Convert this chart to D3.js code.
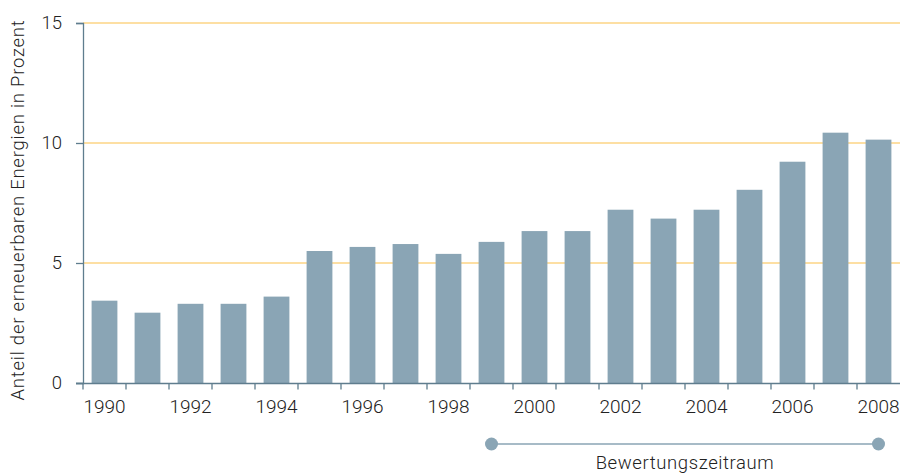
<!DOCTYPE html>
<html><head><meta charset="utf-8">
<script src="https://cdn.jsdelivr.net/npm/d3@7"></script>
<style>
body{margin:0;background:#fff;}
svg{display:block;font-family:Roboto,"Liberation Sans",Arial,sans-serif;font-weight:300;}
</style></head>
<body><svg id="c" width="900" height="473"></svg>
<script>
const years = [1990,1991,1992,1993,1994,1995,1996,1997,1998,1999,2000,2001,2002,2003,2004,2005,2006,2007,2008];
const shares = [3.43,2.93,3.3,3.3,3.6,5.5,5.67,5.79,5.38,5.88,6.33,6.33,7.22,6.85,7.22,8.05,9.22,10.43,10.14];
const yTicks = [0,5,10,15];
const xTickLabels = [1990,1992,1994,1996,1998,2000,2002,2004,2006,2008];
const yTitle = "Anteil der erneuerbaren Energien in Prozent";
const periodStart = 1999, periodEnd = 2008;
const periodLabel = "Bewertungszeitraum";

(function(){
const svg = d3.select("#c");
const L = 83, R = 900, T = 23, B = 383;
const FONT = "Roboto, 'Liberation Sans', Arial, sans-serif";
const x = d3.scaleBand().domain(years).range([L, R]).paddingInner(0.4).paddingOuter(0.2);
const y = d3.scaleLinear().domain([0,15]).range([B, T]);
const axisColor = "#5f7d8e", barColor = "#8aa5b5", gridColor = "#fcd584", textColor = "#222";

// grid
svg.append("g").selectAll("line").data(yTicks.filter(d=>d>0)).join("line")
  .attr("x1", L).attr("x2", R).attr("y1", d=>y(d)).attr("y2", d=>y(d))
  .attr("stroke", gridColor).attr("stroke-width", 1.6);

// bars
svg.append("g").selectAll("rect").data(years).join("rect")
  .attr("x", d=>x(d)).attr("width", x.bandwidth())
  .attr("y", (d,i)=>y(shares[i])).attr("height", (d,i)=>y(0)-y(shares[i]))
  .attr("fill", barColor);

// y axis
const ya = svg.append("g").attr("transform", `translate(${L},0)`)
  .call(d3.axisLeft(y).tickValues(yTicks).tickSize(7).tickPadding(14).tickFormat(d3.format("d")));
ya.select(".domain").attr("stroke", axisColor).attr("stroke-width",1.3);
ya.selectAll(".tick line").attr("stroke", axisColor).attr("stroke-width",1.3);
ya.selectAll("text").attr("font-size", 18.5).attr("fill", textColor)
  .attr("font-family", FONT).attr("font-weight", 300);

// x axis
const half = x.step()*x.paddingInner()/2;
const xa = svg.append("g").attr("transform", `translate(0,${B+0.5})`);
xa.append("line").attr("x1", L-7).attr("x2", R).attr("y1",0).attr("y2",0)
  .attr("stroke", axisColor).attr("stroke-width",1.3);
xa.selectAll(".tk").data(years).join("line").attr("class","tk")
  .attr("x1", d=>x(d)-half).attr("x2", d=>x(d)-half)
  .attr("y1",0).attr("y2",6).attr("stroke", axisColor).attr("stroke-width",1.3);
xa.selectAll("text").data(xTickLabels).join("text")
  .attr("x", d=>x(d)+x.bandwidth()/2).attr("y", 29.5)
  .attr("text-anchor","middle").attr("font-size",19).attr("fill",textColor).text(d=>d);

// y title
svg.append("text").attr("transform", `translate(24,210) rotate(-90)`)
  .attr("text-anchor","middle").attr("font-size",18.5).attr("letter-spacing",0.75)
  .attr("fill",textColor).text(yTitle);

// period annotation
const px1 = x(periodStart)+x.bandwidth()/2, px2 = x(periodEnd)+x.bandwidth()/2, py = 444;
svg.append("line").attr("x1",px1).attr("x2",px2).attr("y1",py).attr("y2",py)
  .attr("stroke", barColor).attr("stroke-width",1.5);
svg.selectAll(".dot").data([px1,px2]).join("circle").attr("class","dot")
  .attr("cx",d=>d).attr("cy",py).attr("r",6.5).attr("fill",barColor);
svg.append("text").attr("x",(px1+px2)/2).attr("y",469).attr("text-anchor","middle")
  .attr("font-size",18.5).attr("letter-spacing",0.6).attr("fill",textColor).text(periodLabel);
})();
</script></body></html>
